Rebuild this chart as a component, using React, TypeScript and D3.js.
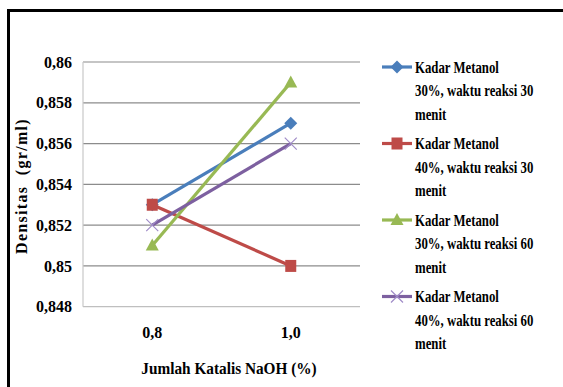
import React from "react";
import * as d3 from "d3";

const W = 563;
const H = 387;

const categories = ["0,8", "1,0"];
const yTicks = [0.848, 0.85, 0.852, 0.854, 0.856, 0.858, 0.86];
const yTickLabels = ["0,848", "0,85", "0,852", "0,854", "0,856", "0,858", "0,86"];

const seriesNames = [
  ["Kadar Metanol", "30%, waktu reaksi 30", "menit"],
  ["Kadar Metanol", "40%, waktu reaksi 30", "menit"],
  ["Kadar Metanol", "30%, waktu reaksi 60", "menit"],
  ["Kadar Metanol", "40%, waktu reaksi 60", "menit"],
];
const metanol30_30 = [0.853, 0.857];
const metanol40_30 = [0.853, 0.85];
const metanol30_60 = [0.851, 0.859];
const metanol40_60 = [0.852, 0.856];
const seriesValues = [metanol30_30, metanol40_30, metanol30_60, metanol40_60];
const seriesColors = ["#4A7EBB", "#BE4B48", "#98B954", "#7D60A0"];
const markerKinds = ["diamond", "square", "triangle", "cross"];

const FONT = "'Liberation Serif', 'Times New Roman', Times, 'DejaVu Serif', serif";

function Marker({ kind, x, y, color }: { kind: string; x: number; y: number; color: string }) {
  if (kind === "diamond") {
    const s = 6.5;
    return <path d={`M${x},${y - s}L${x + s},${y}L${x},${y + s}L${x - s},${y}Z`} fill={color} />;
  }
  if (kind === "square") {
    return <rect x={x - 5.5} y={y - 6} width={11} height={12} fill={color} />;
  }
  if (kind === "triangle") {
    return <path d={`M${x},${y - 7}L${x + 6.5},${y + 5}L${x - 6.5},${y + 5}Z`} fill={color} />;
  }
  const s = 6;
  return (
    <path
      d={`M${x - s},${y - s}L${x + s},${y + s}M${x - s},${y + s}L${x + s},${y - s}`}
      stroke="#A08CC8"
      strokeWidth={1.2}
      fill="none"
    />
  );
}

export default function App() {
  const plotLeft = 83;
  const plotRight = 360;
  const plotTop = 62;
  const plotBottom = 306.7;

  const x = d3.scaleBand<string>().domain(categories).range([plotLeft, plotRight]);
  const y = d3.scaleLinear().domain([0.848, 0.86]).range([plotBottom, plotTop]);
  const cx = (c: string) => (x(c) as number) + x.bandwidth() / 2;

  const line = d3
    .line<number>()
    .x((_, i) => cx(categories[i]))
    .y((v) => y(v));

  const legendX = 382;
  const legendY0 = 67;
  const legendStep = 76.5;
  const lineGap = 23.5;

  const textStyle = { fontFamily: FONT, fontWeight: 700 } as React.CSSProperties;

  return (
    <svg width={W} height={H} style={{ position: "absolute", left: 0, top: 0, background: "#fff" }}>
      <rect x={0} y={0} width={W} height={H} fill="#fff" />
      {/* outer frame */}
      <path d={`M8.5,${H + 5}V10.5H${W + 5}`} fill="none" stroke="#000" strokeWidth={3} />

      {/* gridlines */}
      {yTicks.map((t) => (
        <line
          key={t}
          x1={plotLeft}
          x2={plotRight}
          y1={y(t)}
          y2={y(t)}
          stroke={t === 0.848 ? "#BFBFBF" : "#8C8C8C"}
          strokeWidth={1.2}
        />
      ))}
      <line x1={plotLeft} x2={plotLeft} y1={plotTop} y2={plotBottom} stroke="#C8C8C8" strokeWidth={1.2} />

      {/* y tick labels */}
      {yTicks.map((t, i) => (
        <text key={t} x={72} y={y(t)} dy="0.35em" textAnchor="end" fontSize={16} style={textStyle}>
          {yTickLabels[i]}
        </text>
      ))}

      {/* x tick labels */}
      {categories.map((c) => (
        <text key={c} x={cx(c)} y={332} dy="0.35em" textAnchor="middle" fontSize={16} style={textStyle}>
          {c}
        </text>
      ))}

      {/* axis titles */}
      <text
        transform={`translate(229,368) scale(0.9,1)`}
        dy="0.35em"
        textAnchor="middle"
        fontSize={17}
        style={textStyle}
      >
        Jumlah Katalis NaOH (%)
      </text>
      <text
        transform={`translate(21,186) rotate(-90)`}
        dy="0.35em"
        textAnchor="middle"
        fontSize={16}
        letterSpacing={1.3}
        style={{ ...textStyle, whiteSpace: "pre" }}
      >
        {"Densitas  (gr/ml)"}
      </text>

      {/* series */}
      {seriesValues.map((vals, si) => (
        <g key={si}>
          <path d={line(vals) as string} fill="none" stroke={seriesColors[si]} strokeWidth={3.2} />
          {vals.map((v, i) => (
            <Marker key={i} kind={markerKinds[si]} x={cx(categories[i])} y={y(v)} color={seriesColors[si]} />
          ))}
        </g>
      ))}

      {/* legend */}
      {seriesNames.map((lines, si) => {
        const ly = legendY0 + si * legendStep;
        return (
          <g key={si}>
            <line x1={legendX} x2={legendX + 30} y1={ly} y2={ly} stroke={seriesColors[si]} strokeWidth={3.2} />
            <Marker kind={markerKinds[si]} x={legendX + 15} y={ly} color={seriesColors[si]} />
            {lines.map((t, li) => (
              <text
                key={li}
                transform={`translate(415,${ly + li * lineGap}) scale(0.8,1)`}
                dy="0.35em"
                fontSize={16}
                style={textStyle}
              >
                {t}
              </text>
            ))}
          </g>
        );
      })}
    </svg>
  );
}
